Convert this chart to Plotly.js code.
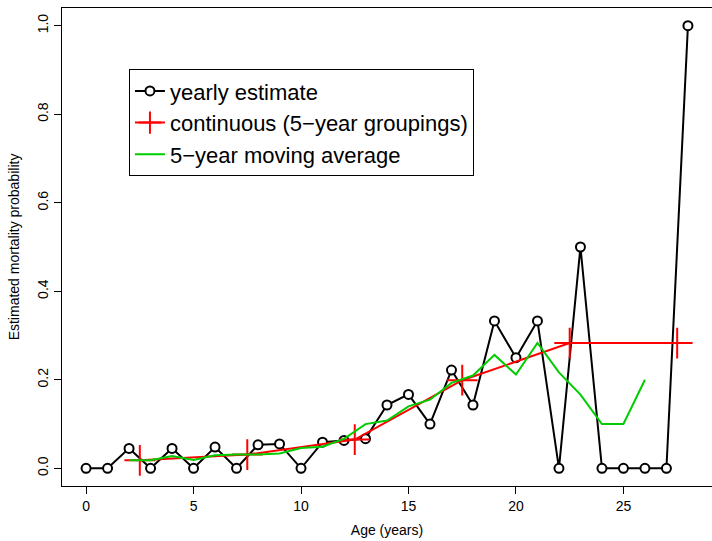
<!DOCTYPE html>
<html>
<head>
<meta charset="utf-8">
<script src="https://cdn.plot.ly/plotly-3.0.1.min.js"></script>
<style>html,body{margin:0;padding:0;background:#fff;}#chart{width:712px;height:541px;}</style>
</head>
<body>
<div id="chart"></div>
<script>
// Yearly estimates (age 0..28)
var ages = [0,1,2,3,4,5,6,7,8,9,10,11,12,13,14,15,16,17,18,19,20,21,22,23,24,25,26,27,28];
var yearly = [0,0,0.045,0,0.045,0,0.048,0,0.053,0.055,0,0.059,0.063,0.067,0.143,0.167,0.1,0.222,0.143,0.333,0.25,0.333,0,0.5,0,0,0,0,1.0];

// Continuous estimate at 5-year group midpoints
var groupMid = [2.5,7.5,12.5,17.5,22.5,27.5];
var groupVal = [0.018,0.031,0.065,0.199,0.283,0.283];

// 5-year moving average (ages 2..26)
var maAges = [2,3,4,5,6,7,8,9,10,11,12,13,14,15,16,17,18,19,20,21,22,23,24,25,26];
var maVals = [0.018,0.018,0.0276,0.0186,0.0292,0.0312,0.0312,0.0334,0.046,0.0488,0.0664,0.0998,0.108,0.1398,0.155,0.193,0.2096,0.2562,0.2118,0.2832,0.2166,0.1666,0.1,0.1,0.2];

var xTicks = [0,5,10,15,20,25];
var yTicks = [0,0.2,0.4,0.6,0.8,1.0];
var yTickText = ['0.0','0.2','0.4','0.6','0.8','1.0'];

var FONT = 'Liberation Sans, Arial, Helvetica, sans-serif';

var traces = [
  {
    x: ages, y: yearly, name: 'yearly estimate', type: 'scatter', mode: 'lines+markers',
    line: {color: '#000000', width: 2},
    marker: {symbol: 'circle', size: 9, color: '#ffffff', line: {color: '#000000', width: 2}}
  },
  {
    x: groupMid, y: groupVal, name: 'continuous (5\u2212year groupings)', type: 'scatter', mode: 'lines+markers',
    line: {color: '#ff0000', width: 2},
    marker: {symbol: 'cross-thin-open', size: 22, color: '#ff0000', line: {color: '#ff0000', width: 2}}
  },
  {
    x: maAges, y: maVals, name: '5\u2212year moving average', type: 'scatter', mode: 'lines',
    line: {color: 'rgb(0,205,0)', width: 2}
  }
];

var layout = {
  width: 712, height: 541,
  margin: {l: 62, r: 0, t: 7.5, b: 54.5, pad: 0},
  paper_bgcolor: '#ffffff', plot_bgcolor: '#ffffff',
  font: {family: FONT, size: 14, color: '#000000'},
  showlegend: true,
  legend: {
    x: 0.103, y: 0.872, xanchor: 'left', yanchor: 'top',
    bgcolor: '#ffffff', bordercolor: '#000000', borderwidth: 1,
    font: {family: FONT, size: 22, color: '#000000'},
    tracegroupgap: 0, itemwidth: 30
  },
  xaxis: {
    range: [-1.12, 29.12], autorange: false,
    tickvals: xTicks, ticktext: xTicks.map(String),
    ticks: 'outside', ticklen: 7, tickwidth: 1, tickcolor: '#000000',
    showline: true, linecolor: '#000000', linewidth: 1, mirror: true,
    showgrid: false, zeroline: false,
    tickfont: {family: FONT, size: 14, color: '#000000'},
    title: {text: 'Age (years)', font: {family: FONT, size: 14, color: '#000000'}, standoff: 12}
  },
  yaxis: {
    range: [-0.04, 1.04], autorange: false,
    tickvals: yTicks, ticktext: yTickText, tickangle: -90,
    ticks: 'outside', ticklen: 7, tickwidth: 1, tickcolor: '#000000',
    showline: true, linecolor: '#000000', linewidth: 1, mirror: false,
    showgrid: false, zeroline: false,
    tickfont: {family: FONT, size: 14, color: '#000000'},
    title: {text: 'Estimated mortality probability', font: {family: FONT, size: 14, color: '#000000'}, standoff: 12}
  }
};

Plotly.newPlot('chart', traces, layout, {displayModeBar: false, staticPlot: true});
</script>
</body>
</html>
